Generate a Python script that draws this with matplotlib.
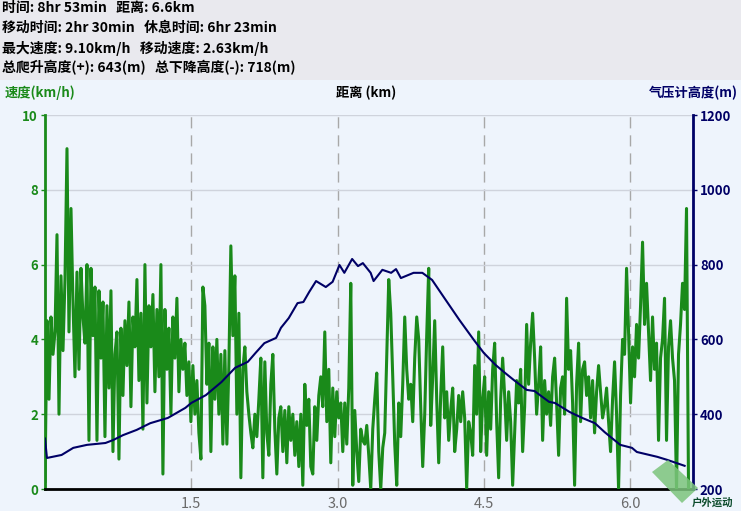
import numpy as np
import matplotlib
matplotlib.use("Agg")
import matplotlib.pyplot as plt
from matplotlib.patches import Rectangle, Polygon

plt.rcParams['font.family'] = ['Noto Sans CJK SC', 'DejaVu Sans']

# 头部统计信息
info_lines = [
    "时间: 8hr 53min   距离: 6.6km",
    "移动时间: 2hr 30min   休息时间: 6hr 23min",
    "最大速度: 9.10km/h   移动速度: 2.63km/h",
    "总爬升高度(+): 643(m)   总下降高度(-): 718(m)",
]

# 速度 (km/h), 沿距离等间隔采样
speed = [
    0.2, 4.5, 2.4, 4.6, 3.6, 4.2, 6.8, 2.0, 5.7, 3.7,
    5.6, 9.1, 4.2, 7.5, 5.0, 3.0, 5.8, 3.2, 5.9, 4.6,
    3.9, 6.0, 1.3, 5.9, 4.1, 5.4, 1.3, 5.3, 3.5, 5.0,
    1.4, 4.9, 2.7, 5.3, 1.0, 3.6, 4.2, 0.8, 4.3, 2.5,
    4.5, 3.3, 5.0, 2.2, 4.6, 3.8, 5.6, 2.9, 4.7, 1.6,
    6.0, 2.3, 4.9, 3.8, 5.2, 2.6, 4.8, 3.0, 6.0, 0.4,
    4.8, 3.2, 4.3, 2.0, 4.6, 3.5, 5.1, 2.6, 4.0, 3.2,
    3.9, 2.5, 3.4, 1.8, 3.3, 2.0, 2.9, 1.5, 0.8, 5.4,
    4.9, 2.8, 3.9, 1.0, 3.8, 2.4, 4.0, 2.0, 3.6, 1.2,
    3.7, 1.2, 3.3, 6.5, 4.1, 5.7, 2.0, 4.7, 0.3, 3.2,
    3.8, 2.6, 2.0, 1.5, 1.1, 2.0, 1.4, 2.4, 3.5, 0.3,
    3.4, 1.5, 0.9, 2.8, 3.6, 1.6, 0.4, 1.9, 2.2, 1.0,
    2.1, 0.7, 2.2, 1.3, 2.0, 0.9, 1.8, 0.6, 2.0, 0.1,
    2.8, 1.7, 2.4, 0.6, 0.4, 2.2, 1.3, 2.5, 3.0, 2.2,
    4.2, 1.8, 3.2, 0.7, 2.7, 1.4, 2.6, 1.9, 2.3, 1.0,
    2.3, 1.2, 2.7, 5.5, 0.1, 2.1, 1.0, 0.2, 1.6, 1.3,
    1.2, 1.7, 0.9, 0.0, 1.6, 2.4, 3.1, 1.0, 0.0, 1.1,
    1.5, 3.5, 5.6, 4.7, 3.0, 1.2, 0.1, 2.3, 1.4, 2.8,
    4.6, 3.2, 2.4, 2.8, 1.8, 3.5, 4.6, 4.0, 2.2, 0.6,
    2.0, 4.1, 5.9, 1.7, 3.0, 4.5, 2.4, 0.7, 2.5, 3.8,
    1.9, 2.6, 1.3, 2.1, 2.7, 1.0, 1.6, 2.5, 1.8, 2.6,
    1.9, 0.0, 1.8, 1.5, 0.9, 3.3, 2.0, 4.2, 1.0, 2.4,
    3.0, 0.9, 2.6, 1.6, 3.2, 3.9, 1.8, 0.3, 2.4, 3.5,
    2.5, 1.3, 2.6, 1.8, 0.1, 1.5, 2.9, 2.3, 3.2, 1.0,
    2.2, 4.4, 2.8, 3.9, 4.7, 3.5, 2.0, 2.8, 3.8, 1.3,
    2.9, 2.0, 2.6, 1.7, 3.0, 3.5, 2.3, 0.9, 2.7, 3.0,
    2.0, 5.1, 3.2, 3.7, 2.3, 0.1, 2.8, 3.9, 1.8, 3.2,
    3.4, 2.5, 3.0, 1.9, 2.9, 1.5, 2.6, 3.3, 2.6, 1.9,
    2.2, 2.7, 1.8, 1.0, 2.4, 3.4, 2.0, 0.0, 2.5, 4.0,
    3.6, 5.9, 4.2, 2.3, 3.8, 3.0, 4.4, 3.5, 4.9, 6.6,
    4.4, 5.5, 4.2, 2.9, 4.6, 3.2, 3.9, 1.3, 3.5, 4.0,
    5.1, 1.3, 3.8, 4.5, 3.5, 2.9, 0.0, 3.6, 4.4, 5.5, 4.8, 7.5, 0.0,
]
speed_end_km = 6.6

# 气压计高度 (m)
alt_km = [0.0, 0.02, 0.17, 0.29, 0.43, 0.62, 0.70, 0.80, 0.94, 1.08, 1.26, 1.44,
          1.50, 1.65, 1.81, 1.95, 2.08, 2.16, 2.25, 2.37, 2.42, 2.50, 2.59, 2.65,
          2.71, 2.78, 2.88, 2.95, 3.02, 3.07, 3.15, 3.21, 3.26, 3.34, 3.37, 3.46,
          3.55, 3.60, 3.65, 3.78, 3.87, 3.97, 4.09, 4.25, 4.40, 4.50, 4.62, 4.72,
          4.81, 4.94, 5.02, 5.17, 5.23, 5.38, 5.51, 5.64, 5.74, 5.90, 6.02, 6.07,
          6.28, 6.38, 6.56]
alt_m = [335, 283, 291, 310, 318, 323, 331, 344, 358, 376, 390, 417,
         430, 451, 486, 524, 540, 564, 590, 604, 631, 657, 697, 700,
         727, 756, 740, 754, 799, 778, 815, 796, 804, 778, 756, 786,
         778, 788, 764, 778, 778, 759, 713, 652, 598, 564, 532, 510,
         491, 465, 462, 433, 430, 406, 390, 376, 352, 318, 310, 299,
         286, 278, 262]

x_ticks = [1.5, 3.0, 4.5, 6.0]

bg = '#eef4fc'
green = '#1a8a1a'
navy = '#000066'

fig = plt.figure(figsize=(7.41, 5.11), dpi=100, facecolor=bg)
fig.patches.append(Rectangle((0, 1 - 80 / 511), 1, 80 / 511, transform=fig.transFigure,
                             facecolor='#e9e9ee', edgecolor='none', zorder=0))
for i, line in enumerate(info_lines):
    fig.text(2 / 741, 1 - (8 + 20 * i) / 511, line, fontsize=10, fontweight='bold',
             va='center', ha='left', color='black')

ax = fig.add_axes([45 / 741, 22 / 511, 648 / 741, 374 / 511])
ax.set_facecolor(bg)
dist = np.linspace(0, speed_end_km, len(speed))
ax.plot(dist, speed, color=green, lw=2.2, zorder=3)
ax.set_xlim(0, 6.646)
ax.set_ylim(0, 10)
ax.set_yticks([0, 2, 4, 6, 8, 10])
ax.set_xticks(x_ticks)
ax.set_xticklabels([f"{t:.1f}" for t in x_ticks])
ax.yaxis.grid(True, color='#cfd3dc', lw=1)
ax.xaxis.grid(True, color='#a8a8a8', lw=1, ls=(0, (8, 5)))
ax.set_axisbelow(True)
ax.tick_params(axis='y', colors=green, labelsize=9.5, length=3, width=1, pad=2)
ax.tick_params(axis='x', colors='#6a6a6a', labelsize=10.5, length=0, pad=6)
for lbl in ax.get_yticklabels():
    lbl.set_fontweight('bold')
    lbl.set_color(green)
ax.spines['left'].set_color(green)
ax.spines['left'].set_linewidth(2)
ax.spines['bottom'].set_color('black')
ax.spines['bottom'].set_linewidth(2)
ax.spines['top'].set_visible(False)
ax.spines['right'].set_visible(False)

ax2 = ax.twinx()
ax2.plot(alt_km, alt_m, color=navy, lw=1.5, zorder=4)
ax2.set_ylim(200, 1200)
ax2.set_yticks([200, 400, 600, 800, 1000, 1200])
ax2.tick_params(axis='y', colors=navy, labelsize=9.5, length=3, width=1, pad=2)
for lbl in ax2.get_yticklabels():
    lbl.set_fontweight('bold')
    lbl.set_color(navy)
ax2.spines['right'].set_color(navy)
ax2.spines['right'].set_linewidth(2)
for s in ['left', 'top', 'bottom']:
    ax2.spines[s].set_visible(False)

# 轴标题
fig.text(5 / 741, 1 - 93 / 511, "速度(km/h)", color=green, fontsize=9.5, fontweight='bold',
         va='center', ha='left')
fig.text(366 / 741, 1 - 93 / 511, "距离 (km)", color='black', fontsize=9.5, fontweight='bold',
         va='center', ha='center')
fig.text(738 / 741, 1 - 93 / 511, "气压计高度(m)", color=navy, fontsize=9.5, fontweight='bold',
         va='center', ha='right')

# 右下角标志
fig.patches.append(Polygon([(652 / 741, 1 - 472 / 511), (668 / 741, 1 - 460 / 511),
                            (698 / 741, 1 - 488 / 511), (682 / 741, 1 - 503 / 511)],
                           closed=True, transform=fig.transFigure, facecolor='#7cc47c',
                           edgecolor='none', alpha=0.85, zorder=5))
fig.text(712 / 741, 1 - 503 / 511, "户外运动", color='#0a4a2a', fontsize=7.5, fontweight='bold',
         va='center', ha='center', zorder=10)

fig.savefig("out.png", dpi=100, facecolor=bg)
